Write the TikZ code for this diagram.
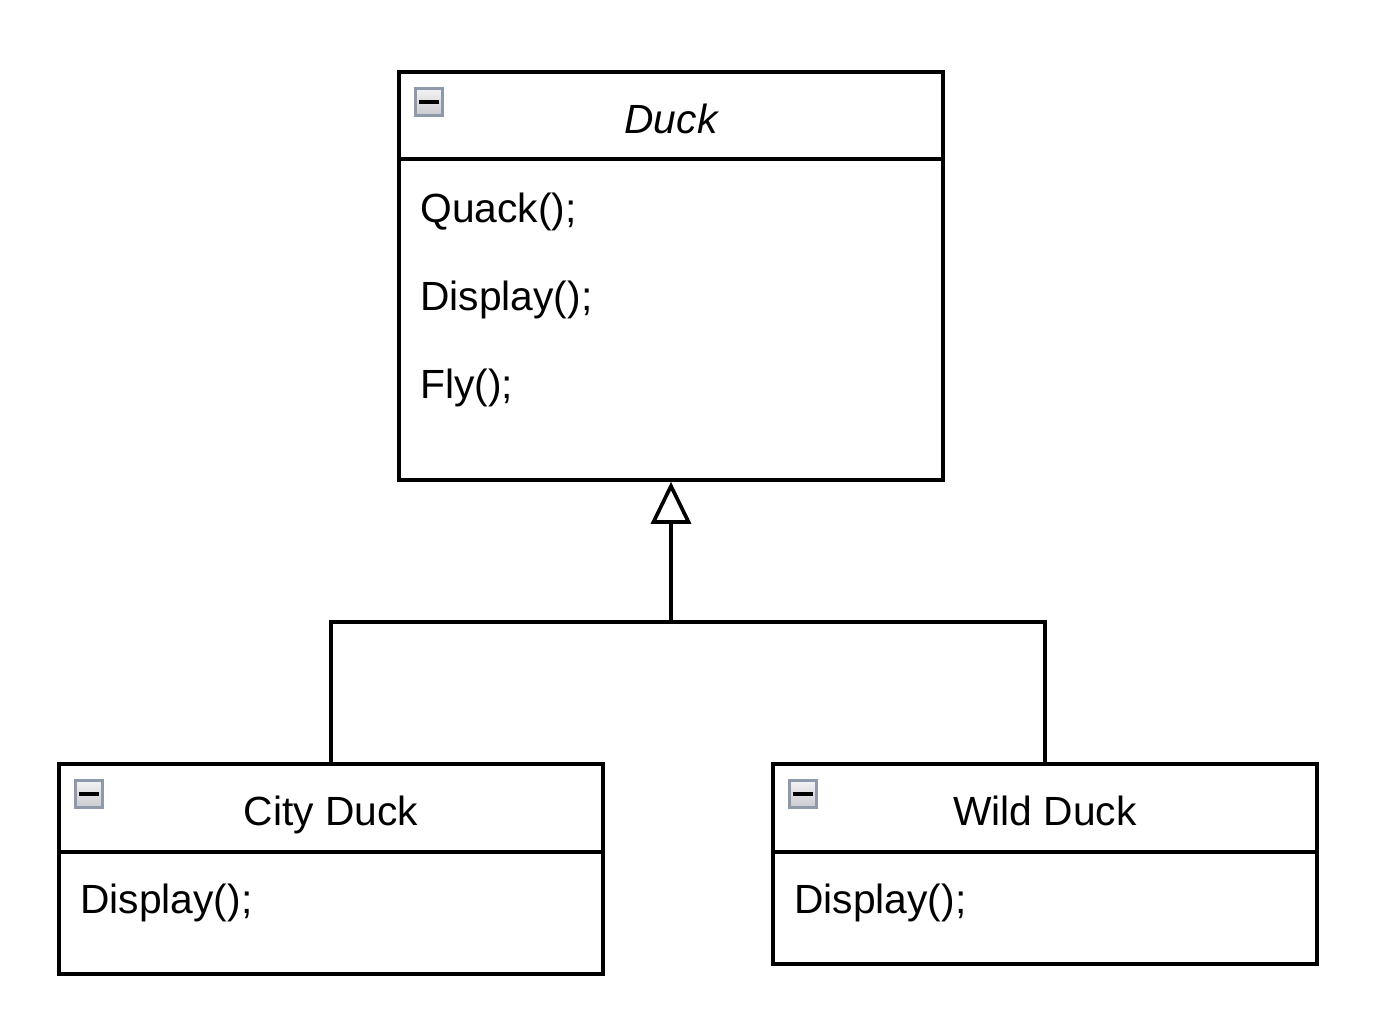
\documentclass[tikz,border=0pt]{standalone}
\usepackage{fontspec}
\setmainfont{Liberation Sans}
\usetikzlibrary{arrows.meta}

\definecolor{iconrim}{HTML}{8E99AA}
\definecolor{icontop}{HTML}{F4F4F6}
\definecolor{iconbot}{HTML}{C9C9CF}

\tikzset{
  classbox/.style={draw, line width=2.6pt, minimum width=136mm, inner sep=0pt},
  umltext/.style={font=\fontsize{29}{35}\selectfont, inner sep=0pt},
  minusicon/.style={draw=iconrim, line width=2.2pt, top color=icontop, bottom color=iconbot,
    minimum size=6.8mm, inner sep=0pt,
    path picture={\fill[black] ([xshift=-2.4mm,yshift=-0.5mm]path picture bounding box.center)
      rectangle ([xshift=2.4mm,yshift=0.5mm]path picture bounding box.center);}},
  link/.style={line width=2.6pt},
}

\begin{document}
\begin{tikzpicture}[x=0.25mm, y=-0.25mm]
	\useasboundingbox (0,0) rectangle (1382,1014);
	% superclass
	\node[classbox, minimum height=102mm] (duck) at (671,276) {};
	\draw[link] (399,159) -- (943,159);
	\node[minusicon] (duckicon) at (429,102) {};
	\node[umltext, anchor=base] (ducktitle) at (671,133) {\itshape Duck};
	\node[umltext, anchor=base west] (quack) at (420,222) {Quack();};
	\node[umltext, anchor=base west] (display) at (420,310) {Display();};
	\node[umltext, anchor=base west] (fly) at (420,398) {Fly();};
	% subclasses
	\node[classbox, minimum height=52.5mm] (city) at (331,869) {};
	\draw[link] (59,852) -- (603,852);
	\node[minusicon] (cityicon) at (89,794) {};
	\node[umltext, anchor=base] (citytitle) at (331,825) {City Duck};
	\node[umltext, anchor=base west] (citydisplay) at (80,913) {Display();};
	\node[classbox, minimum height=50mm] (wild) at (1045,864) {};
	\draw[link] (773,852) -- (1317,852);
	\node[minusicon] (wildicon) at (803,794) {};
	\node[umltext, anchor=base] (wildtitle) at (1045,825) {Wild Duck};
	\node[umltext, anchor=base west] (wilddisplay) at (794,913) {Display();};
	% generalisation
	\coordinate (join) at (671,622);
	\draw[link] (city.north) |- (join) -| (wild.north);
	\draw[link, -{Triangle[open, length=10.5mm, width=10mm, line width=2.6pt]}] (join) -- (duck.south);
\end{tikzpicture}
\end{document}
